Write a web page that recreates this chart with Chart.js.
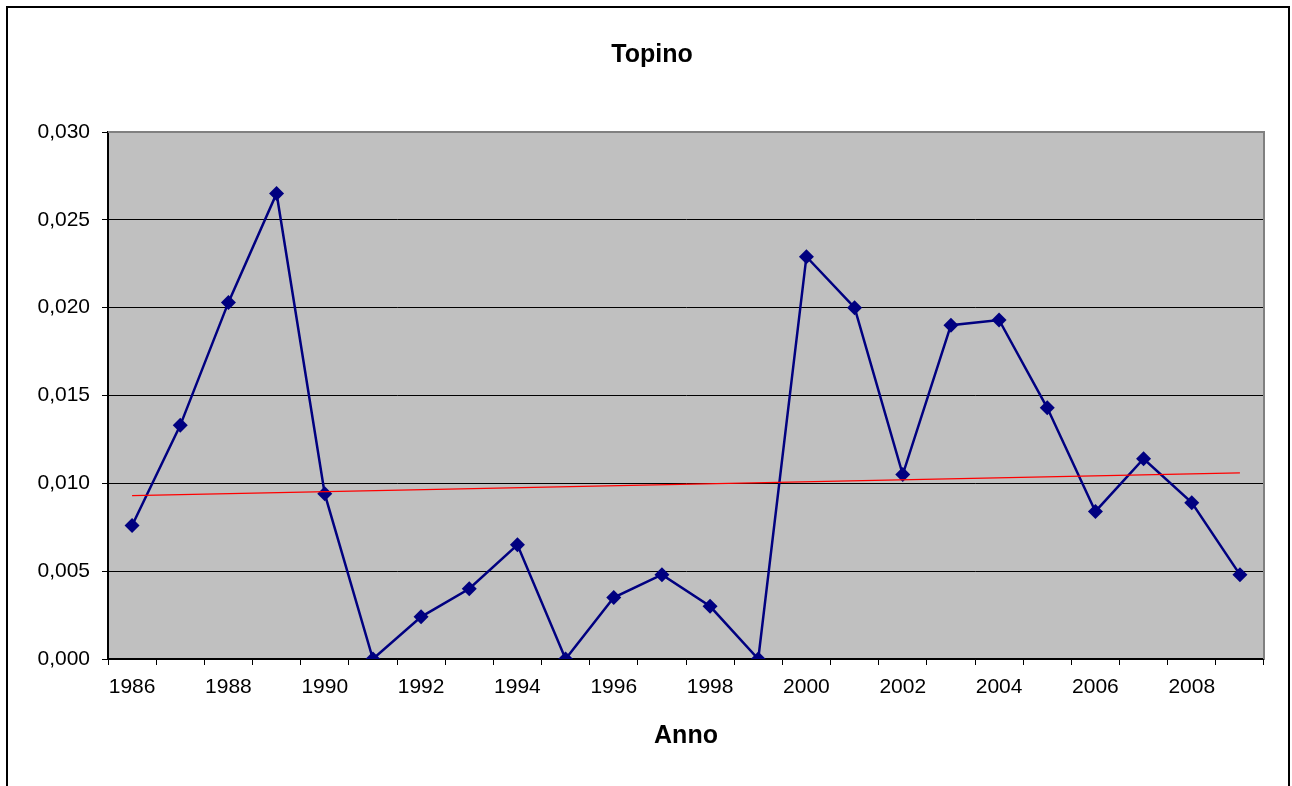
<!DOCTYPE html>
<html>
<head>
<meta charset="utf-8">
<script src="https://cdn.jsdelivr.net/npm/chart.js@4"></script>
<style>
  body { margin: 0; background: #fff; }
  canvas { display: block; }
</style>
</head>
<body>
<canvas id="chart" width="1292" height="786"></canvas>
<script>
// anni e valori
const anni = ['1986', '1987', '1988', '1989', '1990', '1991', '1992', '1993', '1994', '1995', '1996', '1997',
              '1998', '1999', '2000', '2001', '2002', '2003', '2004', '2005', '2006', '2007', '2008', '2009'];
const topino = [0.0076, 0.0133, 0.0203, 0.0265, 0.0094, 0.0000, 0.0024, 0.0040, 0.0065, 0.0000, 0.0035, 0.0048,
                0.0030, 0.0000, 0.0229, 0.0200, 0.0105, 0.0190, 0.0193, 0.0143, 0.0084, 0.0114, 0.0089, 0.0048];
// linea di tendenza: solo i due estremi
const tendenza = [0.0093, null, null, null, null, null, null, null, null, null, null, null,
                  null, null, null, null, null, null, null, null, null, null, null, 0.0106];
const yTicks = [0, 0.005, 0.010, 0.015, 0.020, 0.025, 0.030];

const FONT = 'Liberation Sans, Arial, sans-serif';

const plotBg = {
    id: 'plotBg',
    beforeDraw(chart) {
        const { ctx, chartArea: a } = chart;
        ctx.save();
        ctx.fillStyle = '#fff';
        ctx.fillRect(0, 0, chart.width, chart.height);
        ctx.fillStyle = '#c0c0c0';
        ctx.fillRect(a.left, a.top, a.right - a.left, a.bottom - a.top);
        ctx.restore();
    },
    afterDraw(chart) {
        const { ctx, chartArea: a } = chart;
        ctx.save();
        ctx.strokeStyle = '#808080';
        ctx.lineWidth = 2;
        ctx.beginPath();
        ctx.moveTo(a.left, a.top);
        ctx.lineTo(a.right, a.top);
        ctx.lineTo(a.right, a.bottom);
        ctx.stroke();
        // cornice esterna
        ctx.strokeStyle = '#000';
        ctx.lineWidth = 2;
        ctx.strokeRect(7, 7, 1282, 900);
        ctx.restore();
    }
};

new Chart(document.getElementById('chart'), {
    type: 'line',
    data: {
        labels: anni,
        datasets: [
            {
                label: 'Tendenza',
                data: tendenza,
                borderColor: '#ff0000',
                borderWidth: 1.3,
                pointRadius: 0,
                spanGaps: true,
                tension: 0,
                order: 0
            },
            {
                label: 'Topino',
                data: topino,
                borderColor: '#000080',
                backgroundColor: '#000080',
                borderWidth: 2.5,
                pointStyle: 'rectRot',
                pointRadius: 7.5,
                pointBorderWidth: 0,
                tension: 0,
                order: 1
            }
        ]
    },
    options: {
        responsive: false,
        animation: false,
        layout: { padding: { left: 12, right: 0, top: 0, bottom: 0 }, autoPadding: false },
        plugins: {
            legend: { display: false },
            tooltip: { enabled: false },
            title: {
                display: true,
                text: 'Topino',
                color: '#000',
                font: { family: FONT, size: 25, weight: 'bold' },
                padding: { top: 40, bottom: 62 }
            }
        },
        scales: {
            x: {
                type: 'category',
                offset: true,
                grid: {
                    offset: true,
                    drawOnChartArea: false,
                    drawTicks: true,
                    tickLength: 6,
                    color: '#000',
                    lineWidth: 1
                },
                border: { display: true, color: '#000', width: 1.5 },
                ticks: {
                    autoSkip: false,
                    maxRotation: 0,
                    padding: 10,
                    color: '#000',
                    font: { family: FONT, size: 21 },
                    callback: (v, i) => (i % 2 === 0 ? anni[i] : '')
                },
                title: {
                    display: true,
                    text: 'Anno',
                    color: '#000',
                    font: { family: FONT, size: 25, weight: 'bold' },
                    padding: { top: 0, bottom: 35 }
                },
                afterFit(scale) { scale.height = 127; }
            },
            y: {
                min: 0,
                max: 0.03,
                afterBuildTicks(scale) { scale.ticks = yTicks.map(v => ({ value: v })); },
                grid: {
                    drawTicks: true,
                    tickLength: 6,
                    lineWidth: 1,
                    color: ctx => (ctx.tick && ctx.tick.value === 0.03 ? '#808080' : '#000'),
                    tickColor: '#000'
                },
                border: { display: true, color: '#000', width: 2 },
                ticks: {
                    padding: 12,
                    color: '#000',
                    font: { family: FONT, size: 21 },
                    callback: v => v.toFixed(3).replace('.', ',')
                },
                afterFit(scale) { scale.width = 96; }
            },
            destra: {
                position: 'right',
                display: true,
                grid: { display: false },
                border: { display: false },
                ticks: { display: false },
                afterFit(scale) { scale.width = 28; }
            }
        }
    },
    plugins: [plotBg]
});
</script>
</body>
</html>
